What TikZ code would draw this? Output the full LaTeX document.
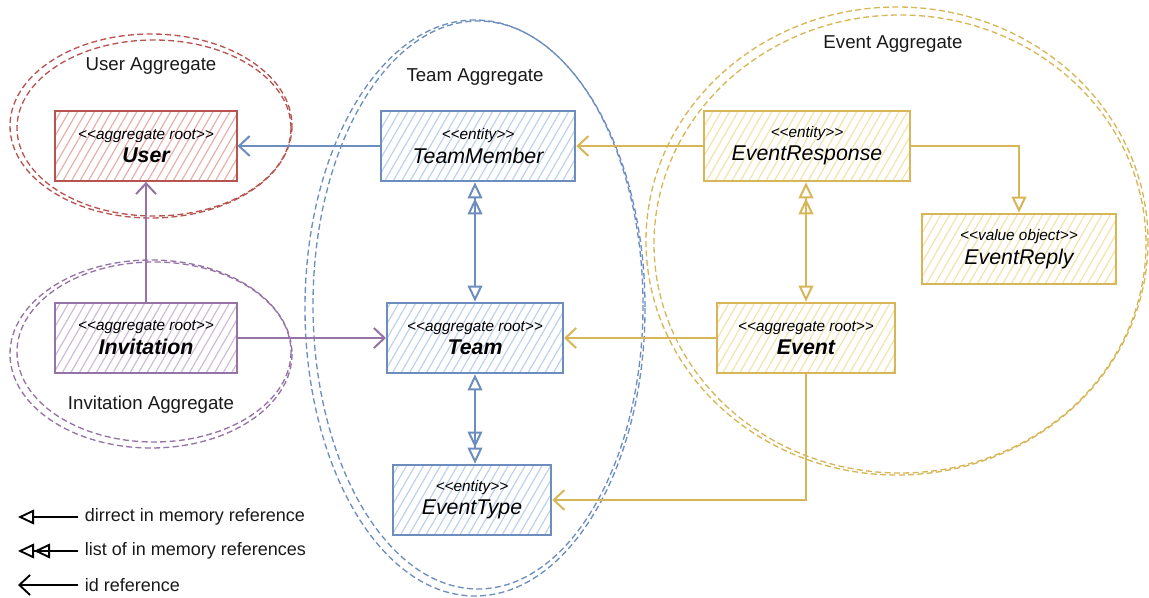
\documentclass[tikz,border=0pt]{standalone}
\usepackage{fontspec}
\setmainfont{Liberation Sans}
\usepackage{tikz}
\usetikzlibrary{positioning}
\usetikzlibrary{calc}
\usetikzlibrary{arrows.meta}
\usetikzlibrary{patterns.meta}

\definecolor{userline}{HTML}{B85450}
\definecolor{userfill}{HTML}{F8CECC}
\definecolor{invline}{HTML}{9673A6}
\definecolor{invfill}{HTML}{E1D5E7}
\definecolor{teamline}{HTML}{6C8EBF}
\definecolor{teamfill}{HTML}{DAE8FC}
\definecolor{eventline}{HTML}{D6B656}
\definecolor{eventfill}{HTML}{FFF2CC}

\newcommand{\stereo}[1]{{\fontsize{11.5}{13}\selectfont\itshape <{}<#1>{}>}}
\newcommand{\rootname}[1]{{\fontsize{16}{20}\selectfont\bfseries\itshape #1}}
\newcommand{\entname}[1]{{\fontsize{16}{20}\selectfont\itshape #1}}

\tikzset{
  dirtip/.tip={Triangle[open,length=12pt,width=11pt]},
  idtip/.tip={Straight Barb[length=8pt,width=15pt]},
  classbox/.style={draw=#1line, line width=1.5pt, preaction={fill=white},
    pattern={Lines[angle=60,distance=5.5pt,line width=0.9pt]}, pattern color=#1fill!75!#1line,
    minimum height=53pt, align=center, inner sep=2pt},
  aggr/.style={draw=#1line, line width=1pt, dash pattern=on 4.5pt off 2.5pt},
  link/.style={draw=#1line, line width=1.5pt},
  agglabel/.style={font=\fontsize{14}{16}\selectfont, text=black!90},
  legend/.style={font=\fontsize{13.5}{16}\selectfont, text=black!90, anchor=west, inner xsep=5pt, inner ysep=0pt},
  legline/.style={draw=black, line width=1.4pt}
}

\begin{document}
\begin{tikzpicture}[x=0.75pt, y=-0.75pt]
\useasboundingbox (0,0) rectangle (1149,598);

\draw[aggr=user] (151,126) ellipse [x radius=141, y radius=92];
\draw[aggr=user] (154,128) ellipse [x radius=137, y radius=88];
\draw[aggr=inv] (151,354) ellipse [x radius=141, y radius=94];
\draw[aggr=inv] (154,352) ellipse [x radius=137, y radius=90];
\draw[aggr=team] (475,308) ellipse [x radius=170, y radius=288];
\draw[aggr=team] (478,305) ellipse [x radius=165, y radius=284];
\draw[aggr=event] (897,241) ellipse [x radius=251, y radius=234];
\draw[aggr=event] (900,244) ellipse [x radius=246, y radius=229];

\node[agglabel] (userlbl) at (151,66) {User Aggregate};
\node[agglabel] (invlbl) at (151,405) {Invitation Aggregate};
\node[agglabel] (teamlbl) at (475,77) {Team Aggregate};
\node[agglabel] (eventlbl) at (893,44) {Event Aggregate};

\node[classbox=user, minimum width=136.5pt] (user) at (146,146) {\stereo{aggregate root}\\[3pt]\rootname{User}};
\node[classbox=inv, minimum width=136.5pt] (invitation) at (146,338) {\stereo{aggregate root}\\[3pt]\rootname{Invitation}};
\node[classbox=team, minimum width=146pt] (tmember) at (478,146) {\stereo{entity}\\[3pt]\entname{TeamMember}};
\node[classbox=team, minimum width=132pt] (team) at (475,338) {\stereo{aggregate root}\\[3pt]\rootname{Team}};
\node[classbox=team, minimum width=119pt] (etype) at (472,500) {\stereo{entity}\\[3pt]\entname{EventType}};
\node[classbox=event, minimum width=154pt] (eresponse) at (807,146) {\stereo{entity}\\[3pt]\entname{EventResponse}};
\node[classbox=event, minimum width=145.5pt] (ereply) at (1019,249) {\stereo{value object}\\[3pt]\entname{EventReply}};
\node[classbox=event, minimum width=133pt] (event) at (806,338) {\stereo{aggregate root}\\[3pt]\rootname{Event}};

\draw[link=team, -{idtip}] (tmember.west) -- (user.east);
\draw[link=inv, -{idtip}] (invitation.north) -- (user.south);
\draw[link=inv, -{idtip}] (invitation.east) -- (team.west);
\draw[link=team, {dirtip}-{dirtip[]dirtip[]}] (team.north) -- (team.north |- tmember.south);
\draw[link=team, {dirtip}-{dirtip[]dirtip[]}] (team.south) -- (team.south |- etype.north);
\draw[link=event, {dirtip}-{dirtip[]dirtip[]}] (event.north) -- (event.north |- eresponse.south);
\draw[link=event, -{dirtip}] (eresponse.east) -| (ereply.north);
\draw[link=event, -{idtip}] (eresponse.west) -- (tmember.east);
\draw[link=event, -{idtip}] (event.west) -- (team.east);
\draw[link=event, -{idtip}] (event.south) |- (etype.east);

\node[legend] (leg1) at (78,517) {dirrect in memory reference};
\node[legend] (leg2) at (78,551) {list of in memory references};
\node[legend] (leg3) at (78,585) {id reference};
\coordinate (leg1end) at (18,517);
\coordinate (leg2end) at (18,551);
\coordinate (leg3end) at (18,585);
\draw[legline, -{dirtip}] (leg1.west) -- (leg1end);
\draw[legline, -{dirtip[]dirtip[]}] (leg2.west) -- (leg2end);
\draw[legline, -{idtip}] (leg3.west) -- (leg3end);
\end{tikzpicture}
\end{document}
